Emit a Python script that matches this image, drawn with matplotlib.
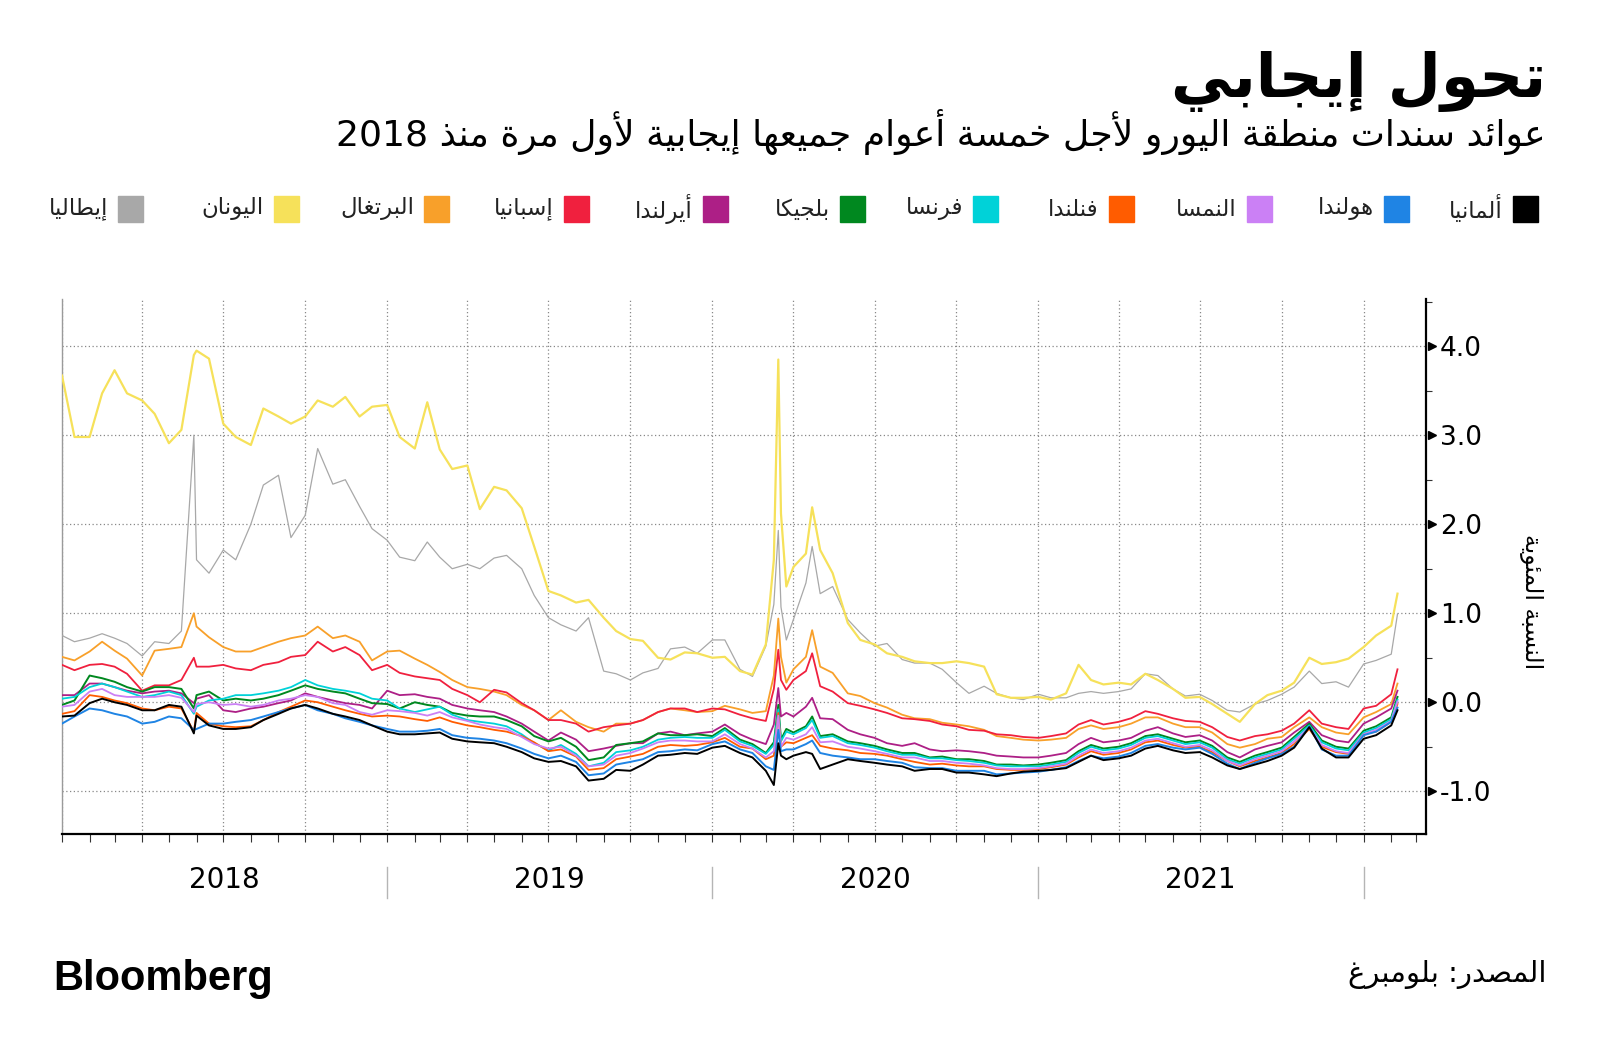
import re
import matplotlib.pyplot as plt
import matplotlib.dates as mdates
from matplotlib.ticker import MultipleLocator, NullFormatter
from matplotlib.patches import Rectangle
import pandas as pd

# minimal Arabic shaping: contextual forms + visual (right-to-left) order
FOUR = {'ئ': 0xFE89, 'ب': 0xFE8F, 'ت': 0xFE95, 'ث': 0xFE99, 'ج': 0xFE9D, 'ح': 0xFEA1,
        'خ': 0xFEA5, 'س': 0xFEB1, 'ش': 0xFEB5, 'ص': 0xFEB9, 'ض': 0xFEBD, 'ط': 0xFEC1,
        'ظ': 0xFEC5, 'ع': 0xFEC9, 'غ': 0xFECD, 'ف': 0xFED1, 'ق': 0xFED5, 'ك': 0xFED9,
        'ل': 0xFEDD, 'م': 0xFEE1, 'ن': 0xFEE5, 'ه': 0xFEE9, 'ي': 0xFEF1}
TWO = {'آ': 0xFE81, 'أ': 0xFE83, 'ؤ': 0xFE85, 'إ': 0xFE87, 'ا': 0xFE8D, 'ة': 0xFE93,
       'د': 0xFEA9, 'ذ': 0xFEAB, 'ر': 0xFEAD, 'ز': 0xFEAF, 'و': 0xFEED, 'ى': 0xFEEF}
LAM_ALEF = {'آ': 0xFEF5, 'أ': 0xFEF7, 'إ': 0xFEF9, 'ا': 0xFEFB}


def ar(text):
    units = []
    i = 0
    while i < len(text):
        if text[i] == 'ل' and i + 1 < len(text) and text[i + 1] in LAM_ALEF:
            units.append(('LA', text[i + 1]))
            i += 2
        else:
            units.append(('C', text[i]))
            i += 1

    def kind(u):
        if u[0] == 'LA' or u[1] in TWO:
            return 'R'
        if u[1] in FOUR:
            return 'D'
        return None

    out = []
    for k, u in enumerate(units):
        kd = kind(u)
        prev = kind(units[k - 1]) if k > 0 else None
        nxt = kind(units[k + 1]) if k + 1 < len(units) else None
        jp = kd is not None and prev == 'D'
        jn = kd == 'D' and nxt is not None
        if u[0] == 'LA':
            out.append(chr(LAM_ALEF[u[1]] + jp))
        elif kd == 'D':
            off = 3 if (jp and jn) else 1 if jp else 2 if jn else 0
            out.append(chr(FOUR[u[1]] + off))
        elif kd == 'R':
            out.append(chr(TWO[u[1]] + jp))
        else:
            out.append(u[1])
    rev = ''.join(out)[::-1]
    return re.sub(r'[0-9.]+', lambda m: m.group(0)[::-1], rev)


# semi-monthly observations plus a few extra days around the spikes
extra_days = ['2018-05-29', '2020-03-10', '2020-03-18', '2020-03-24', '2020-04-22', '2022-02-08']
dates = pd.date_range('2018-01-01', '2022-02-01', freq='SMS').append(pd.to_datetime(extra_days)).sort_values()

# five-year yields, %
greece = [3.67, 2.98, 2.98, 3.47, 3.73, 3.47, 3.39, 3.24, 2.91, 3.06, 3.90, 3.95, 3.86, 3.13, 2.98, 2.89, 3.30, 3.21, 3.13, 3.21, 3.39, 3.32, 3.43, 3.21, 3.32,
          3.34, 2.98, 2.85, 3.37, 2.84, 2.62, 2.66, 2.17, 2.42, 2.38, 2.18, 1.75, 1.25, 1.20, 1.12, 1.15, 0.95, 0.80, 0.71, 0.69, 0.50, 0.48, 0.56, 0.55,
          0.50, 0.51, 0.35, 0.31, 0.65, 1.60, 3.85, 2.12, 1.30, 1.52, 1.67, 2.19, 1.71, 1.45, 0.89, 0.70, 0.65, 0.55, 0.51, 0.46, 0.44, 0.44, 0.46, 0.44, 0.40, 0.09, 0.05, 0.05,
          0.06, 0.03, 0.10, 0.42, 0.25, 0.20, 0.22, 0.20, 0.32, 0.25, 0.15, 0.05, 0.06, -0.02, -0.13, -0.22, -0.02, 0.08, 0.13, 0.22, 0.50, 0.43, 0.45, 0.49,
          0.62, 0.75, 0.86, 1.22]
italy = [0.75, 0.68, 0.72, 0.77, 0.72, 0.66, 0.52, 0.68, 0.66, 0.80, 3.00, 1.60, 1.45, 1.71, 1.60, 2.00, 2.44, 2.55, 1.85, 2.10, 2.85, 2.45, 2.50, 2.20, 1.95,
         1.82, 1.63, 1.59, 1.80, 1.63, 1.50, 1.55, 1.50, 1.62, 1.65, 1.50, 1.20, 0.95, 0.87, 0.80, 0.95, 0.35, 0.32, 0.25, 0.33, 0.38, 0.60, 0.62, 0.55,
         0.70, 0.70, 0.37, 0.29, 0.63, 1.10, 1.93, 1.07, 0.70, 0.93, 1.34, 1.75, 1.22, 1.30, 0.93, 0.78, 0.63, 0.66, 0.48, 0.44, 0.44, 0.37, 0.22, 0.10, 0.18, 0.10, 0.05, 0.03,
         0.09, 0.05, 0.05, 0.10, 0.12, 0.10, 0.12, 0.15, 0.32, 0.30, 0.15, 0.07, 0.09, 0.02, -0.09, -0.11, -0.02, 0.02, 0.09, 0.17, 0.35, 0.21, 0.23, 0.17,
         0.43, 0.47, 0.54, 0.99]
portugal = [0.51, 0.47, 0.57, 0.68, 0.58, 0.49, 0.30, 0.58, 0.60, 0.62, 1.00, 0.85, 0.73, 0.62, 0.57, 0.57, 0.62, 0.68, 0.72, 0.75, 0.85, 0.72, 0.75, 0.68, 0.47,
            0.57, 0.58, 0.49, 0.42, 0.34, 0.25, 0.17, 0.15, 0.12, 0.08, -0.03, -0.09, -0.20, -0.09, -0.22, -0.28, -0.33, -0.24, -0.24, -0.20, -0.11, -0.07, -0.09, -0.11,
            -0.10, -0.04, -0.08, -0.12, -0.10, 0.30, 0.94, 0.51, 0.22, 0.37, 0.51, 0.81, 0.40, 0.33, 0.10, 0.07, -0.01, -0.06, -0.14, -0.18, -0.19, -0.23, -0.25, -0.27, -0.31, -0.38, -0.40, -0.42,
            -0.43, -0.42, -0.40, -0.30, -0.26, -0.30, -0.28, -0.24, -0.17, -0.17, -0.24, -0.28, -0.28, -0.34, -0.47, -0.51, -0.47, -0.41, -0.39, -0.28, -0.17, -0.28, -0.34, -0.36,
            -0.17, -0.11, -0.02, 0.21]
spain = [0.42, 0.36, 0.42, 0.43, 0.40, 0.32, 0.13, 0.19, 0.19, 0.25, 0.50, 0.40, 0.40, 0.42, 0.38, 0.36, 0.42, 0.45, 0.51, 0.53, 0.68, 0.57, 0.62, 0.53, 0.36,
         0.42, 0.33, 0.29, 0.27, 0.25, 0.15, 0.08, 0.00, 0.14, 0.11, -0.01, -0.09, -0.20, -0.20, -0.24, -0.33, -0.28, -0.26, -0.24, -0.20, -0.11, -0.07, -0.07, -0.11,
         -0.07, -0.08, -0.14, -0.18, -0.21, 0.15, 0.59, 0.25, 0.14, 0.25, 0.35, 0.55, 0.18, 0.12, -0.01, -0.04, -0.08, -0.12, -0.18, -0.19, -0.21, -0.25, -0.27, -0.31, -0.32, -0.36, -0.37, -0.39,
         -0.40, -0.38, -0.35, -0.25, -0.20, -0.25, -0.22, -0.18, -0.10, -0.13, -0.18, -0.21, -0.22, -0.28, -0.39, -0.43, -0.38, -0.36, -0.32, -0.24, -0.09, -0.24, -0.28, -0.30,
         -0.07, -0.04, 0.09, 0.37]
ireland = [0.08, 0.08, 0.21, 0.21, 0.17, 0.13, 0.10, 0.12, 0.13, 0.10, -0.01, 0.04, 0.08, -0.09, -0.11, -0.07, -0.05, -0.01, 0.02, 0.10, 0.06, 0.02, -0.01, -0.03, -0.07,
           0.13, 0.08, 0.09, 0.06, 0.04, -0.03, -0.07, -0.09, -0.11, -0.16, -0.24, -0.33, -0.43, -0.34, -0.42, -0.55, -0.52, -0.49, -0.46, -0.46, -0.35, -0.33, -0.37, -0.35,
           -0.33, -0.25, -0.36, -0.42, -0.47, -0.25, 0.16, -0.16, -0.12, -0.16, -0.05, 0.05, -0.18, -0.19, -0.31, -0.36, -0.40, -0.46, -0.49, -0.46, -0.53, -0.55, -0.54, -0.55, -0.57, -0.60, -0.61, -0.62,
           -0.62, -0.60, -0.57, -0.47, -0.40, -0.45, -0.43, -0.40, -0.32, -0.28, -0.35, -0.39, -0.37, -0.43, -0.56, -0.62, -0.53, -0.49, -0.45, -0.34, -0.22, -0.37, -0.43, -0.45,
           -0.24, -0.17, -0.07, 0.13]
belgium = [-0.03, 0.02, 0.30, 0.27, 0.23, 0.17, 0.12, 0.17, 0.17, 0.15, -0.07, 0.08, 0.12, 0.02, 0.04, 0.02, 0.04, 0.08, 0.13, 0.19, 0.15, 0.12, 0.10, 0.04, -0.01,
           -0.02, -0.07, 0.00, -0.03, -0.05, -0.12, -0.15, -0.16, -0.16, -0.20, -0.27, -0.38, -0.44, -0.40, -0.50, -0.65, -0.62, -0.48, -0.46, -0.44, -0.35, -0.37, -0.37, -0.36,
           -0.38, -0.29, -0.42, -0.47, -0.57, -0.45, -0.03, -0.42, -0.30, -0.34, -0.27, -0.16, -0.38, -0.36, -0.44, -0.46, -0.49, -0.53, -0.57, -0.57, -0.62, -0.61, -0.64, -0.64, -0.66, -0.70, -0.70, -0.71,
           -0.70, -0.68, -0.65, -0.55, -0.48, -0.52, -0.50, -0.46, -0.38, -0.36, -0.41, -0.45, -0.43, -0.49, -0.62, -0.67, -0.60, -0.56, -0.51, -0.39, -0.24, -0.43, -0.50, -0.52,
           -0.32, -0.27, -0.17, 0.06]
france = [0.04, 0.06, 0.17, 0.21, 0.17, 0.12, 0.06, 0.08, 0.12, 0.08, -0.13, -0.05, 0.02, 0.04, 0.08, 0.08, 0.10, 0.13, 0.17, 0.25, 0.19, 0.15, 0.13, 0.10, 0.04,
          0.02, -0.07, -0.11, -0.08, -0.05, -0.14, -0.20, -0.22, -0.24, -0.27, -0.36, -0.46, -0.54, -0.48, -0.58, -0.72, -0.68, -0.56, -0.54, -0.50, -0.42, -0.40, -0.39, -0.40,
          -0.40, -0.31, -0.44, -0.49, -0.58, -0.48, -0.08, -0.44, -0.33, -0.36, -0.29, -0.20, -0.40, -0.38, -0.46, -0.48, -0.51, -0.55, -0.59, -0.59, -0.63, -0.63, -0.65, -0.66, -0.68, -0.71, -0.72, -0.72,
          -0.72, -0.70, -0.67, -0.57, -0.50, -0.54, -0.52, -0.48, -0.40, -0.38, -0.43, -0.47, -0.45, -0.51, -0.64, -0.69, -0.62, -0.58, -0.53, -0.41, -0.26, -0.45, -0.52, -0.54,
          -0.34, -0.29, -0.19, 0.03]
austria = [-0.05, -0.03, 0.12, 0.15, 0.08, 0.06, 0.06, 0.06, 0.08, 0.05, -0.11, -0.02, 0.00, -0.03, -0.02, -0.05, -0.03, 0.02, 0.04, 0.08, 0.06, -0.01, -0.03, -0.11, -0.14,
           -0.09, -0.10, -0.12, -0.15, -0.11, -0.17, -0.21, -0.25, -0.28, -0.30, -0.39, -0.47, -0.52, -0.50, -0.60, -0.72, -0.70, -0.60, -0.57, -0.52, -0.45, -0.43, -0.43, -0.44,
           -0.44, -0.36, -0.47, -0.52, -0.62, -0.55, -0.15, -0.50, -0.40, -0.42, -0.36, -0.28, -0.45, -0.44, -0.50, -0.52, -0.55, -0.58, -0.62, -0.62, -0.66, -0.66, -0.68, -0.69, -0.71, -0.74, -0.75, -0.75,
           -0.74, -0.72, -0.69, -0.60, -0.53, -0.57, -0.55, -0.51, -0.43, -0.41, -0.46, -0.50, -0.48, -0.54, -0.66, -0.71, -0.64, -0.60, -0.55, -0.44, -0.28, -0.48, -0.55, -0.57,
           -0.36, -0.31, -0.21, 0.01]
finland = [-0.13, -0.10, 0.08, 0.06, 0.02, -0.01, -0.07, -0.09, -0.05, -0.07, -0.33, -0.12, -0.24, -0.27, -0.28, -0.27, -0.20, -0.11, -0.05, 0.02, 0.00, -0.05, -0.09, -0.13, -0.16,
           -0.15, -0.16, -0.19, -0.21, -0.17, -0.22, -0.26, -0.28, -0.31, -0.33, -0.38, -0.45, -0.55, -0.53, -0.61, -0.76, -0.74, -0.64, -0.61, -0.58, -0.50, -0.48, -0.49, -0.48,
           -0.45, -0.40, -0.50, -0.52, -0.64, -0.60, -0.12, -0.50, -0.45, -0.46, -0.40, -0.37, -0.49, -0.52, -0.54, -0.57, -0.58, -0.60, -0.64, -0.67, -0.70, -0.69, -0.71, -0.72, -0.72, -0.75, -0.76, -0.76,
           -0.75, -0.73, -0.70, -0.62, -0.55, -0.59, -0.57, -0.53, -0.45, -0.43, -0.48, -0.51, -0.50, -0.56, -0.66, -0.72, -0.66, -0.62, -0.57, -0.47, -0.30, -0.50, -0.56, -0.58,
           -0.36, -0.33, -0.22, -0.02]
netherlands = [-0.24, -0.16, -0.07, -0.09, -0.13, -0.16, -0.24, -0.22, -0.16, -0.18, -0.31, -0.30, -0.24, -0.24, -0.22, -0.20, -0.16, -0.11, -0.07, -0.03, -0.09, -0.13, -0.18, -0.22, -0.26,
               -0.30, -0.33, -0.33, -0.32, -0.30, -0.37, -0.40, -0.41, -0.43, -0.46, -0.52, -0.58, -0.63, -0.60, -0.67, -0.82, -0.80, -0.70, -0.67, -0.64, -0.56, -0.55, -0.53, -0.54,
               -0.47, -0.44, -0.53, -0.57, -0.72, -0.76, -0.31, -0.55, -0.53, -0.53, -0.47, -0.43, -0.57, -0.60, -0.62, -0.64, -0.64, -0.66, -0.68, -0.73, -0.74, -0.74, -0.77, -0.77, -0.77, -0.81, -0.80, -0.79,
               -0.78, -0.76, -0.73, -0.66, -0.60, -0.63, -0.61, -0.57, -0.49, -0.47, -0.51, -0.53, -0.51, -0.58, -0.69, -0.75, -0.68, -0.63, -0.58, -0.50, -0.27, -0.53, -0.60, -0.60,
               -0.37, -0.33, -0.22, -0.06]
germany = [-0.16, -0.15, -0.01, 0.04, 0.00, -0.03, -0.09, -0.09, -0.03, -0.05, -0.35, -0.15, -0.26, -0.30, -0.30, -0.28, -0.20, -0.13, -0.07, -0.03, -0.07, -0.13, -0.16, -0.20, -0.26,
           -0.33, -0.36, -0.36, -0.35, -0.34, -0.41, -0.44, -0.45, -0.46, -0.50, -0.56, -0.63, -0.67, -0.66, -0.72, -0.88, -0.86, -0.76, -0.77, -0.70, -0.60, -0.59, -0.57, -0.58,
           -0.51, -0.49, -0.57, -0.62, -0.77, -0.93, -0.46, -0.60, -0.64, -0.60, -0.56, -0.58, -0.75, -0.70, -0.64, -0.66, -0.68, -0.70, -0.72, -0.77, -0.75, -0.75, -0.79, -0.79, -0.81, -0.83, -0.80, -0.78,
           -0.77, -0.76, -0.74, -0.67, -0.60, -0.65, -0.63, -0.60, -0.52, -0.49, -0.54, -0.57, -0.56, -0.62, -0.71, -0.75, -0.70, -0.66, -0.60, -0.51, -0.28, -0.52, -0.62, -0.62,
           -0.41, -0.37, -0.26, -0.09]

names = ['ألمانيا', 'هولندا', 'النمسا', 'فنلندا', 'فرنسا', 'بلجيكا',
         'أيرلندا', 'إسبانيا', 'البرتغال', 'اليونان', 'إيطاليا']
series = [germany, netherlands, austria, finland, france, belgium,
          ireland, spain, portugal, greece, italy]
colors = ['#000000', '#1f84e4', '#cb80f5', '#ff5c00', '#00d2d8', '#00881f',
          '#ad1f86', '#f0203e', '#f8a02a', '#f6e15a', '#a8a8a8']
widths = [1.4, 1.4, 1.3, 1.3, 1.3, 1.4, 1.3, 1.3, 1.3, 1.6, 0.9]

fig = plt.figure(figsize=(16, 10.6), dpi=100)
ax = fig.add_axes([62 / 1600, 1 - 834 / 1060, 1364 / 1600, 535 / 1060])

# draw the grey/yellow pair first, Germany last
for i in [10, 9, 8, 7, 6, 5, 4, 3, 2, 1, 0]:
    ax.plot(dates, series[i], color=colors[i], lw=widths[i], zorder=3)

ax.set_xlim(pd.Timestamp('2018-01-01'), pd.Timestamp('2022-03-12'))
ax.set_ylim(-1.48, 4.53)

ax.xaxis.set_major_locator(mdates.MonthLocator(bymonth=[1, 4, 7, 10]))
ax.xaxis.set_minor_locator(mdates.MonthLocator())
ax.xaxis.set_major_formatter(NullFormatter())
ax.tick_params(axis='x', which='both', direction='out', length=6, width=0.8, color='#333333')

ax.yaxis.tick_right()
ax.yaxis.set_major_locator(MultipleLocator(1.0))
ax.yaxis.set_minor_locator(MultipleLocator(0.5))
ax.yaxis.set_major_formatter(lambda v, p: f'{v:.1f}')
ax.tick_params(axis='y', which='major', length=0, pad=10, labelsize=19)
ax.tick_params(axis='y', which='minor', length=4, width=0.8, color='#333333')
ax.plot([1.0045] * 6, [-1, 0, 1, 2, 3, 4], transform=ax.get_yaxis_transform(),
        marker='>', ms=6, color='black', lw=0, clip_on=False)

ax.grid(True, which='major', axis='both', linestyle=(0, (1, 2)), color='#888888', lw=0.9)
ax.spines['top'].set_visible(False)
ax.spines['left'].set_color('#9a9a9a')
ax.spines['left'].set_linewidth(1.0)
ax.spines['right'].set_linewidth(1.6)
ax.spines['bottom'].set_linewidth(1.6)

# year labels and separators under the axis
years = [2018, 2019, 2020, 2021]
for y in years:
    ax.text(pd.Timestamp(f'{y}-07-02'), -0.086, str(y), transform=ax.get_xaxis_transform(),
            ha='center', va='center', fontsize=20, family=['Liberation Sans Narrow', 'DejaVu Sans'])
    ax.plot([pd.Timestamp(f'{y + 1}-01-01')] * 2, [-0.062, -0.12], transform=ax.get_xaxis_transform(),
            color='#b5b5b5', lw=1, clip_on=False)

arfont = ['DejaVu Sans']
fig.text(1531 / 1600, 1 - 602 / 1060, ar('النسبة المئوية'), rotation=-90, ha='center', va='center',
         fontsize=17, family=arfont)

# titles
fig.text(1546 / 1600, 1 - 97 / 1060, ar('تحول إيجابي'), ha='right', va='baseline',
         fontsize=44, fontweight='bold', family=arfont)
fig.text(1546 / 1600, 1 - 146 / 1060, ar('عوائد سندات منطقة اليورو لأجل خمسة أعوام جميعها إيجابية لأول مرة منذ 2018'),
         ha='right', va='baseline', fontsize=26, family=arfont)

# legend, right to left
swatch_x = [1513, 1384, 1247, 1109, 973, 840, 703, 564, 424, 274, 118]
for name, c, sx in zip(names, colors, swatch_x):
    fig.patches.append(Rectangle((sx / 1600, 1 - 222 / 1060), 25 / 1600, 26 / 1060,
                                 transform=fig.transFigure, color=c))
    fig.text((sx - 10) / 1600, 1 - 209 / 1060, ar(name), ha='right', va='center',
             fontsize=16.5, color='#222222', family=arfont)

fig.text(1546 / 1600, 1 - 982 / 1060, ar('المصدر: بلومبرغ'), ha='right', va='baseline',
         fontsize=21, family=arfont)
fig.text(53 / 1600, 1 - 990 / 1060, 'Bloomberg', ha='left', va='baseline',
         fontsize=30, fontweight='bold', family=['Liberation Sans', 'DejaVu Sans'])

fig.savefig('out.png', dpi=100)
